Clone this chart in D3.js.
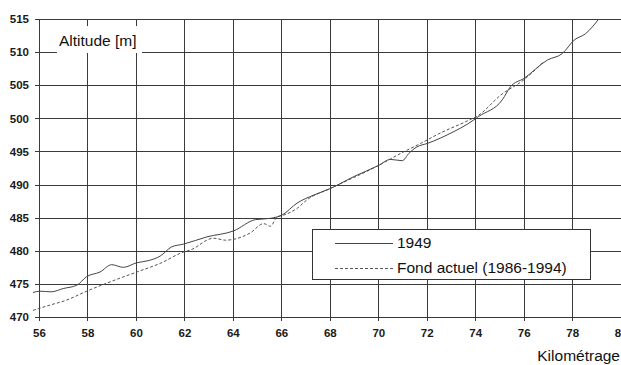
<!DOCTYPE html>
<html>
<head>
<meta charset="utf-8">
<script src="https://cdn.jsdelivr.net/npm/d3@7"></script>
<style>
  body { margin: 0; background: #fff; }
  svg { display: block; }
  text { font-family: "Liberation Sans", Arial, sans-serif; fill: #111; }
</style>
</head>
<body>
<script>
    // tick labels
    var kmTicks = [56, 58, 60, 62, 64, 66, 68, 70, 72, 74, 76, 78, 80];
    var altTicks = [470, 475, 480, 485, 490, 495, 500, 505, 510, 515];

    // 1949 profile
    var km1949 = [55.75, 56.04, 56.5, 57.0, 57.56, 57.97, 58.52, 59.0, 59.48, 60.04, 60.5, 61.0,
        61.48, 61.96, 62.93, 64.03, 64.93, 65.55, 66.03, 66.65, 67.33, 68.02, 68.99, 70.02,
        70.5, 70.99, 71.26, 71.6, 72.02, 73.12, 73.67, 74.15, 75.12, 75.46, 76.0, 76.98,
        77.6, 78.08, 78.56, 79.1];
    var alt1949 = [473.7, 473.9, 473.8, 474.3, 474.8, 476.1, 476.8, 477.9, 477.5, 478.2, 478.5, 479.2,
        480.6, 481.0, 482.1, 483.0, 484.7, 484.9, 485.4, 487.2, 488.4, 489.4, 491.2, 492.9,
        493.8, 493.6, 494.7, 495.7, 496.2, 498.0, 499.1, 500.3, 502.8, 504.8, 506.0, 508.8,
        509.8, 511.8, 512.8, 515.0];

    // fond actuel (1986-1994)
    var kmActuel = [55.75, 56.45, 57.1, 57.97, 58.93, 60.04, 61.0, 61.96, 62.24, 63.2, 63.69, 64.72,
        65.27, 65.55, 65.82, 66.1, 66.65, 67.06, 68.02, 70.02, 70.92, 71.74, 72.57, 73.67,
        74.15, 75.05, 76.0, 76.84];
    var altActuel = [471.0, 471.8, 472.5, 473.9, 475.3, 476.8, 478.1, 479.8, 480.1, 481.9, 481.6, 482.7,
        484.1, 483.7, 485.1, 485.4, 486.4, 487.7, 489.4, 492.9, 494.7, 496.2, 497.8, 499.6,
        500.5, 503.5, 505.8, 508.6];

    var width = 621, height = 365;
    var gridColor = "#3a3a3a";

    var svg = d3.select("body").append("svg")
        .attr("width", width).attr("height", height);

    var x = d3.scaleLinear().domain([56, 80]).range([39, 620.6]);
    var y = d3.scaleLinear().domain([470, 515]).range([317, 19]);

    // grid (with short ticks outside the plot)
    var grid = svg.append("g").attr("class", "grid");
    grid.selectAll("line.v").data(kmTicks).enter().append("line")
        .attr("class", "v")
        .attr("x1", function(d){ return Math.round(x(d)) + 0.5; })
        .attr("x2", function(d){ return Math.round(x(d)) + 0.5; })
        .attr("y1", y(515)).attr("y2", y(470) + 4)
        .style("stroke", gridColor).style("stroke-width", 1);
    grid.selectAll("line.h").data(altTicks).enter().append("line")
        .attr("class", "h")
        .attr("x1", x(56) - 4).attr("x2", width)
        .attr("y1", function(d){ return Math.round(y(d)) + 0.5; })
        .attr("y2", function(d){ return Math.round(y(d)) + 0.5; })
        .style("stroke", gridColor).style("stroke-width", 1);

    // axis labels via d3 axes
    var xAxis = svg.append("g").attr("transform", "translate(0," + (y(470) + 9) + ")")
        .call(d3.axisBottom(x).tickValues(kmTicks).tickSize(0).tickFormat(d3.format("d")));
    var yAxis = svg.append("g").attr("transform", "translate(" + (x(56) - 7) + ",0)")
        .call(d3.axisLeft(y).tickValues(altTicks).tickSize(0).tickFormat(d3.format("d")));
    svg.selectAll(".domain").remove();
    svg.selectAll(".tick text")
        .style("font-family", '"Liberation Sans", Arial, sans-serif')
        .style("font-size", "11.5px")
        .style("font-weight", "bold")
        .style("fill", "#1a1a1a");

    // curves
    var line = d3.line()
        .x(function(d){ return x(d[0]); })
        .y(function(d){ return y(d[1]); })
        .curve(d3.curveMonotoneX);

    var d1949 = km1949.map(function(k, i){ return [k, alt1949[i]]; });
    var dActuel = kmActuel.map(function(k, i){ return [k, altActuel[i]]; });

    svg.append("path").datum(dActuel)
        .attr("d", line)
        .style("fill", "none").style("stroke", "#555")
        .style("stroke-width", 1).style("stroke-dasharray", "3,2");
    svg.append("path").datum(d1949)
        .attr("d", line)
        .style("fill", "none").style("stroke", "#444")
        .style("stroke-width", 1);

    // y title with white background
    svg.append("rect")
        .attr("x", 57).attr("y", 26).attr("width", 85).attr("height", 27)
        .style("fill", "#fff");
    svg.append("text")
        .attr("x", 59).attr("y", 46)
        .style("font-size", "15.5px")
        .text("Altitude [m]");

    // x title
    svg.append("text")
        .attr("x", 620).attr("y", 361)
        .attr("text-anchor", "end")
        .style("font-size", "15.5px")
        .text("Kilométrage");

    // legend
    var legend = svg.append("g");
    legend.append("rect")
        .attr("x", 312.5).attr("y", 229.5).attr("width", 278).attr("height", 50)
        .style("fill", "#fff").style("stroke", "#333").style("stroke-width", 1);
    legend.append("line")
        .attr("x1", 335).attr("x2", 393).attr("y1", 243.5).attr("y2", 243.5)
        .style("stroke", "#444").style("stroke-width", 1);
    legend.append("line")
        .attr("x1", 335).attr("x2", 393).attr("y1", 268.5).attr("y2", 268.5)
        .style("stroke", "#555").style("stroke-width", 1).style("stroke-dasharray", "3,2");
    legend.append("text").attr("x", 397).attr("y", 248)
        .style("font-size", "15.5px").text("1949");
    legend.append("text").attr("x", 397).attr("y", 273)
        .style("font-size", "15.5px").text("Fond actuel (1986-1994)");
</script>
</body>
</html>
